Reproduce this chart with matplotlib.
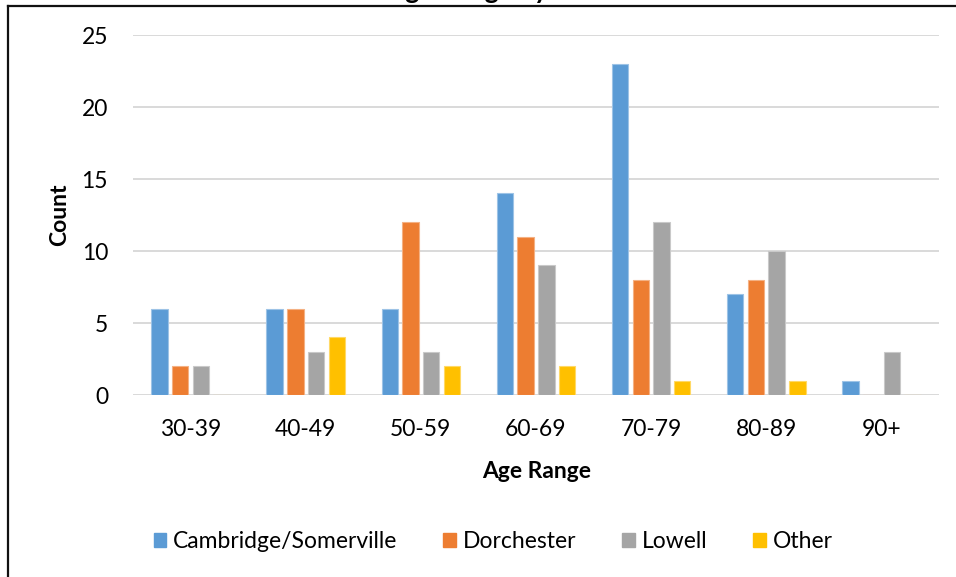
import matplotlib.pyplot as plt
import numpy as np
from matplotlib.lines import Line2D
from matplotlib.patches import Patch

plt.rcParams['font.family'] = ['Lato', 'DejaVu Sans']

## data
age_ranges = ['30-39', '40-49', '50-59', '60-69', '70-79', '80-89', '90+']
sites = ['Cambridge/Somerville', 'Dorchester', 'Lowell', 'Other']
cambridge = [6, 6, 6, 14, 23, 7, 1]
dorchester = [2, 6, 12, 11, 8, 8, 0]
lowell = [2, 3, 3, 9, 12, 10, 3]
other = [0, 4, 2, 2, 1, 1, 0]

colors = ['#5B9BD5', '#ED7D31', '#A5A5A5', '#FFC000']
edges = ['#9DC3E6', '#F4B183', '#C9C9C9', '#FFD966']

W, H = 956, 577
fig = plt.figure(figsize=(W / 100, H / 100), dpi=100)
ax = fig.add_axes([133 / W, 1 - 395 / H, (939 - 133) / W, (395 - 35) / H])

x = np.arange(len(age_ranges))
pitch = 0.18
bw = 0.142
for i, vals in enumerate([cambridge, dorchester, lowell, other]):
    ax.bar(x + (i - 1.5) * pitch, vals, width=bw, color=colors[i],
           edgecolor=edges[i], linewidth=0.8, zorder=3)

ax.set_xlim(-0.5, len(age_ranges) - 0.5)
ax.set_ylim(0, 25)
ax.set_yticks([0, 5, 10, 15, 20, 25])
ax.set_xticks(x)
ax.set_xticklabels(age_ranges)
ax.yaxis.grid(True, color='#d9d9d9', linewidth=1.4, zorder=0)
ax.set_axisbelow(True)
for s in ax.spines.values():
    s.set_visible(False)
ax.tick_params(axis='both', length=0, labelsize=16.5, colors='#000000')
ax.tick_params(axis='y', pad=18)
ax.tick_params(axis='x', pad=17)

## axis titles
fig.text(537 / W, 1 - 471 / H, 'Age Range', ha='center', va='center',
         fontsize=16.5, fontweight='bold')
fig.text(60 / W, 1 - 215 / H, 'Count', ha='center', va='center', rotation=90,
         fontsize=16.5, fontweight='bold')

## title (sits at the top edge of the chart frame)
fig.text(493 / W, 1 + 1 / H, 'Age Range by Site', ha='center', va='baseline',
         fontsize=19, fontweight='bold')

## chart frame
fig.add_artist(Line2D([8 / W, 8 / W], [0, 1 - 6 / H], color='#111111', linewidth=1.6))
fig.add_artist(Line2D([8 / W, 1], [1 - 6 / H, 1 - 6 / H], color='#111111', linewidth=1.6))

handles = [Patch(facecolor=c, edgecolor=c) for c in colors]
fig.legend(handles, sites, loc='center', bbox_to_anchor=(493 / W, 1 - 542 / H),
           ncol=4, frameon=False, fontsize=16.5, handlelength=0.55, handleheight=0.55,
           handletextpad=0.3, columnspacing=2.0)

fig.savefig('out.png', dpi=100)
